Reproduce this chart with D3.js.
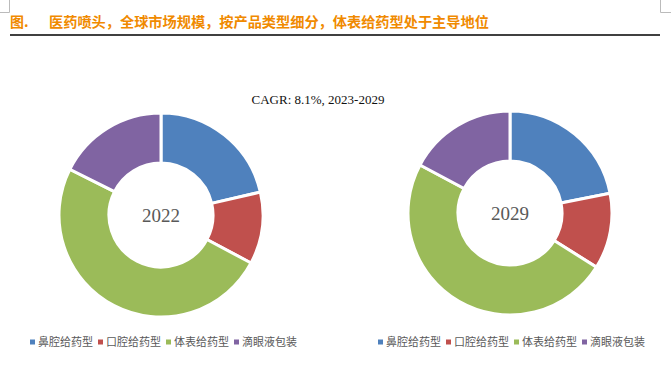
<!DOCTYPE html>
<html><head><meta charset="utf-8">
<script src="https://cdn.jsdelivr.net/npm/d3@7"></script>
<style>html,body{margin:0;padding:0;background:#fff;}svg{display:block;}</style>
</head><body>
<svg id="c" width="671" height="371"></svg>
<script>
const categories = ["鼻腔给药型", "口腔给药型", "体表给药型", "滴眼液包装"];
const values2022 = [21.4, 11.4, 49.6, 17.6];
const values2029 = [21.9, 12.0, 48.9, 17.2];
const years = ["2022", "2029"];
const colors = ["#4F81BD", "#C0504D", "#9BBB59", "#8064A2"];
const titleText = "图.";
const titleMain = "医药喷头，全球市场规模，按产品类型细分，体表给药型处于主导地位";
const cagrText = "CAGR:  8.1%, 2023-2029";

const svg = d3.select("#c");
// corner marks
svg.append("path").attr("d","M9.5,0V12.5H0").attr("fill","none").attr("stroke","#bbb").attr("stroke-width",1);
svg.append("path").attr("d","M660.5,0V12.5H671").attr("fill","none").attr("stroke","#bbb").attr("stroke-width",1);
// title
svg.append("text").attr("x",10).attr("y",27).attr("font-family","Noto Sans CJK SC").attr("font-weight","bold")
  .attr("font-size",14).attr("fill","#F08A00").text(titleText);
svg.append("text").attr("x",49).attr("y",27).attr("font-family","Noto Sans CJK SC").attr("font-weight","bold")
  .attr("font-size",14.2).attr("fill","#F08A00").text(titleMain);
svg.append("line").attr("x1",10).attr("x2",660).attr("y1",35).attr("y2",35).attr("stroke","#000").attr("stroke-width",1.5);

svg.append("text").attr("x",318).attr("y",104).attr("text-anchor","middle").attr("font-family","Liberation Serif")
  .attr("font-size",13).attr("fill","#111").text(cagrText);

const colorScale = d3.scaleOrdinal().domain(categories).range(colors);
const pie = d3.pie().sort(null).value(d=>d.v);
const outerR = 102, innerR = 52;
const arc = d3.arc().innerRadius(innerR).outerRadius(outerR);
const centers = [[161,215],[510,213]];
[values2022, values2029].forEach((vals,i)=>{
  const g = svg.append("g").attr("transform",`translate(${centers[i][0]},${centers[i][1]})`);
  const data = categories.map((c,j)=>({c, v: vals[j]}));
  g.selectAll("path").data(pie(data)).join("path")
    .attr("d",arc).attr("fill",d=>colorScale(d.data.c))
    .attr("stroke","#fff").attr("stroke-width",3).attr("stroke-linejoin","miter");
  g.append("text").attr("text-anchor","middle").attr("dy","0.35em").attr("font-family","Liberation Serif")
    .attr("font-size",19).attr("fill","#595959").text(years[i]);
});

// legends
const legendStarts = [30, 378];
legendStarts.forEach(x0=>{
  const lg = svg.append("g").attr("transform",`translate(${x0},342)`);
  const step = 68;
  categories.forEach((c,j)=>{
    const it = lg.append("g").attr("transform",`translate(${j*step},0)`);
    it.append("rect").attr("x",0).attr("y",-2.5).attr("width",5).attr("height",5).attr("fill",colorScale(c));
    it.append("text").attr("x",8).attr("y",0).attr("dy","0.35em").attr("font-family","Noto Sans CJK SC")
      .attr("font-size",11).attr("fill","#595959").text(c);
  });
});
</script>
</body></html>
